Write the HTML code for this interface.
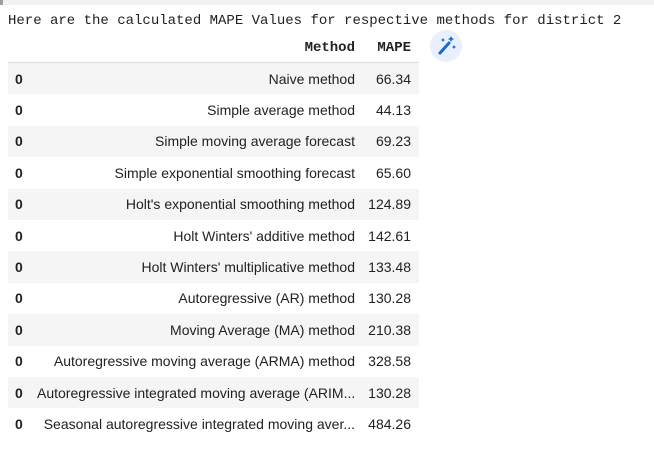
<!DOCTYPE html>
<html><head><meta charset="utf-8"><style>
body{margin:0;width:654px;height:449px;background:#fff;position:relative;overflow:hidden;font-family:"Liberation Sans",sans-serif;}
.topbar{position:absolute;left:0;top:0;width:654px;height:5px;background:#f2f2f2;}
.topbar:before{content:"";position:absolute;left:0;top:0;width:3px;height:5px;background:#9e9e9e;}
.msg{position:absolute;left:8px;top:13px;font-family:"Liberation Mono",monospace;font-size:14px;color:#212121;white-space:pre;}
table{position:absolute;left:8px;top:33px;border-collapse:collapse;font-size:14px;color:#212121;table-layout:fixed;width:411px;}
th{font-family:"Liberation Mono",monospace;font-weight:bold;text-align:right;height:29px;border-bottom:1px solid #ddd;padding:0 6px;}
td{height:31.4px;padding:0 6px;text-align:right;white-space:nowrap;overflow:hidden;}
th.c1,td.i{padding:0 0 0 7px;text-align:left;}
td.i{font-weight:bold;}
th.c3,td:last-child{padding:0 8px 0 4px;}
tr:nth-child(odd) td{background:#f5f5f5;}
.icon{position:absolute;left:430px;top:30px;width:32px;height:32px;border-radius:50%;background:#e8f0fe;}
</style></head><body>
<div class="topbar"></div>
<div class="msg">Here are the calculated MAPE Values for respective methods for district 2</div>
<table>
<colgroup><col style="width:23px"><col style="width:330px"><col style="width:58px"></colgroup>
<thead><tr><th class="c1"></th><th>Method</th><th class="c3">MAPE</th></tr></thead>
<tbody>
<tr><td class="i">0</td><td>Naive method</td><td>66.34</td></tr>
<tr><td class="i">0</td><td>Simple average method</td><td>44.13</td></tr>
<tr><td class="i">0</td><td>Simple moving average forecast</td><td>69.23</td></tr>
<tr><td class="i">0</td><td>Simple exponential smoothing forecast</td><td>65.60</td></tr>
<tr><td class="i">0</td><td>Holt's exponential smoothing method</td><td>124.89</td></tr>
<tr><td class="i">0</td><td>Holt Winters' additive method</td><td>142.61</td></tr>
<tr><td class="i">0</td><td>Holt Winters' multiplicative method</td><td>133.48</td></tr>
<tr><td class="i">0</td><td>Autoregressive (AR) method</td><td>130.28</td></tr>
<tr><td class="i">0</td><td>Moving Average (MA) method</td><td>210.38</td></tr>
<tr><td class="i">0</td><td>Autoregressive moving average (ARMA) method</td><td>328.58</td></tr>
<tr><td class="i">0</td><td>Autoregressive integrated moving average (ARIM...</td><td>130.28</td></tr>
<tr><td class="i">0</td><td>Seasonal autoregressive integrated moving aver...</td><td>484.26</td></tr>
</tbody></table>
<div class="icon">
<svg width="32" height="32" viewBox="0 0 32 32"><line x1="10" y1="23" x2="19" y2="13" stroke="#1967d2" stroke-width="3" stroke-linecap="round"/><path d="M21 6l1 2 2 1-2 1-1 2-1-2-2-1 2-1z M13 8l.7 1.3 1.3.7-1.3.7L13 12l-.7-1.3L11 10l1.3-.7z M24 15l.7 1.3 1.3.7-1.3.7L24 19l-.7-1.3L22 17l1.3-.7z" fill="#1967d2"/></svg>
</div>
</body></html>
